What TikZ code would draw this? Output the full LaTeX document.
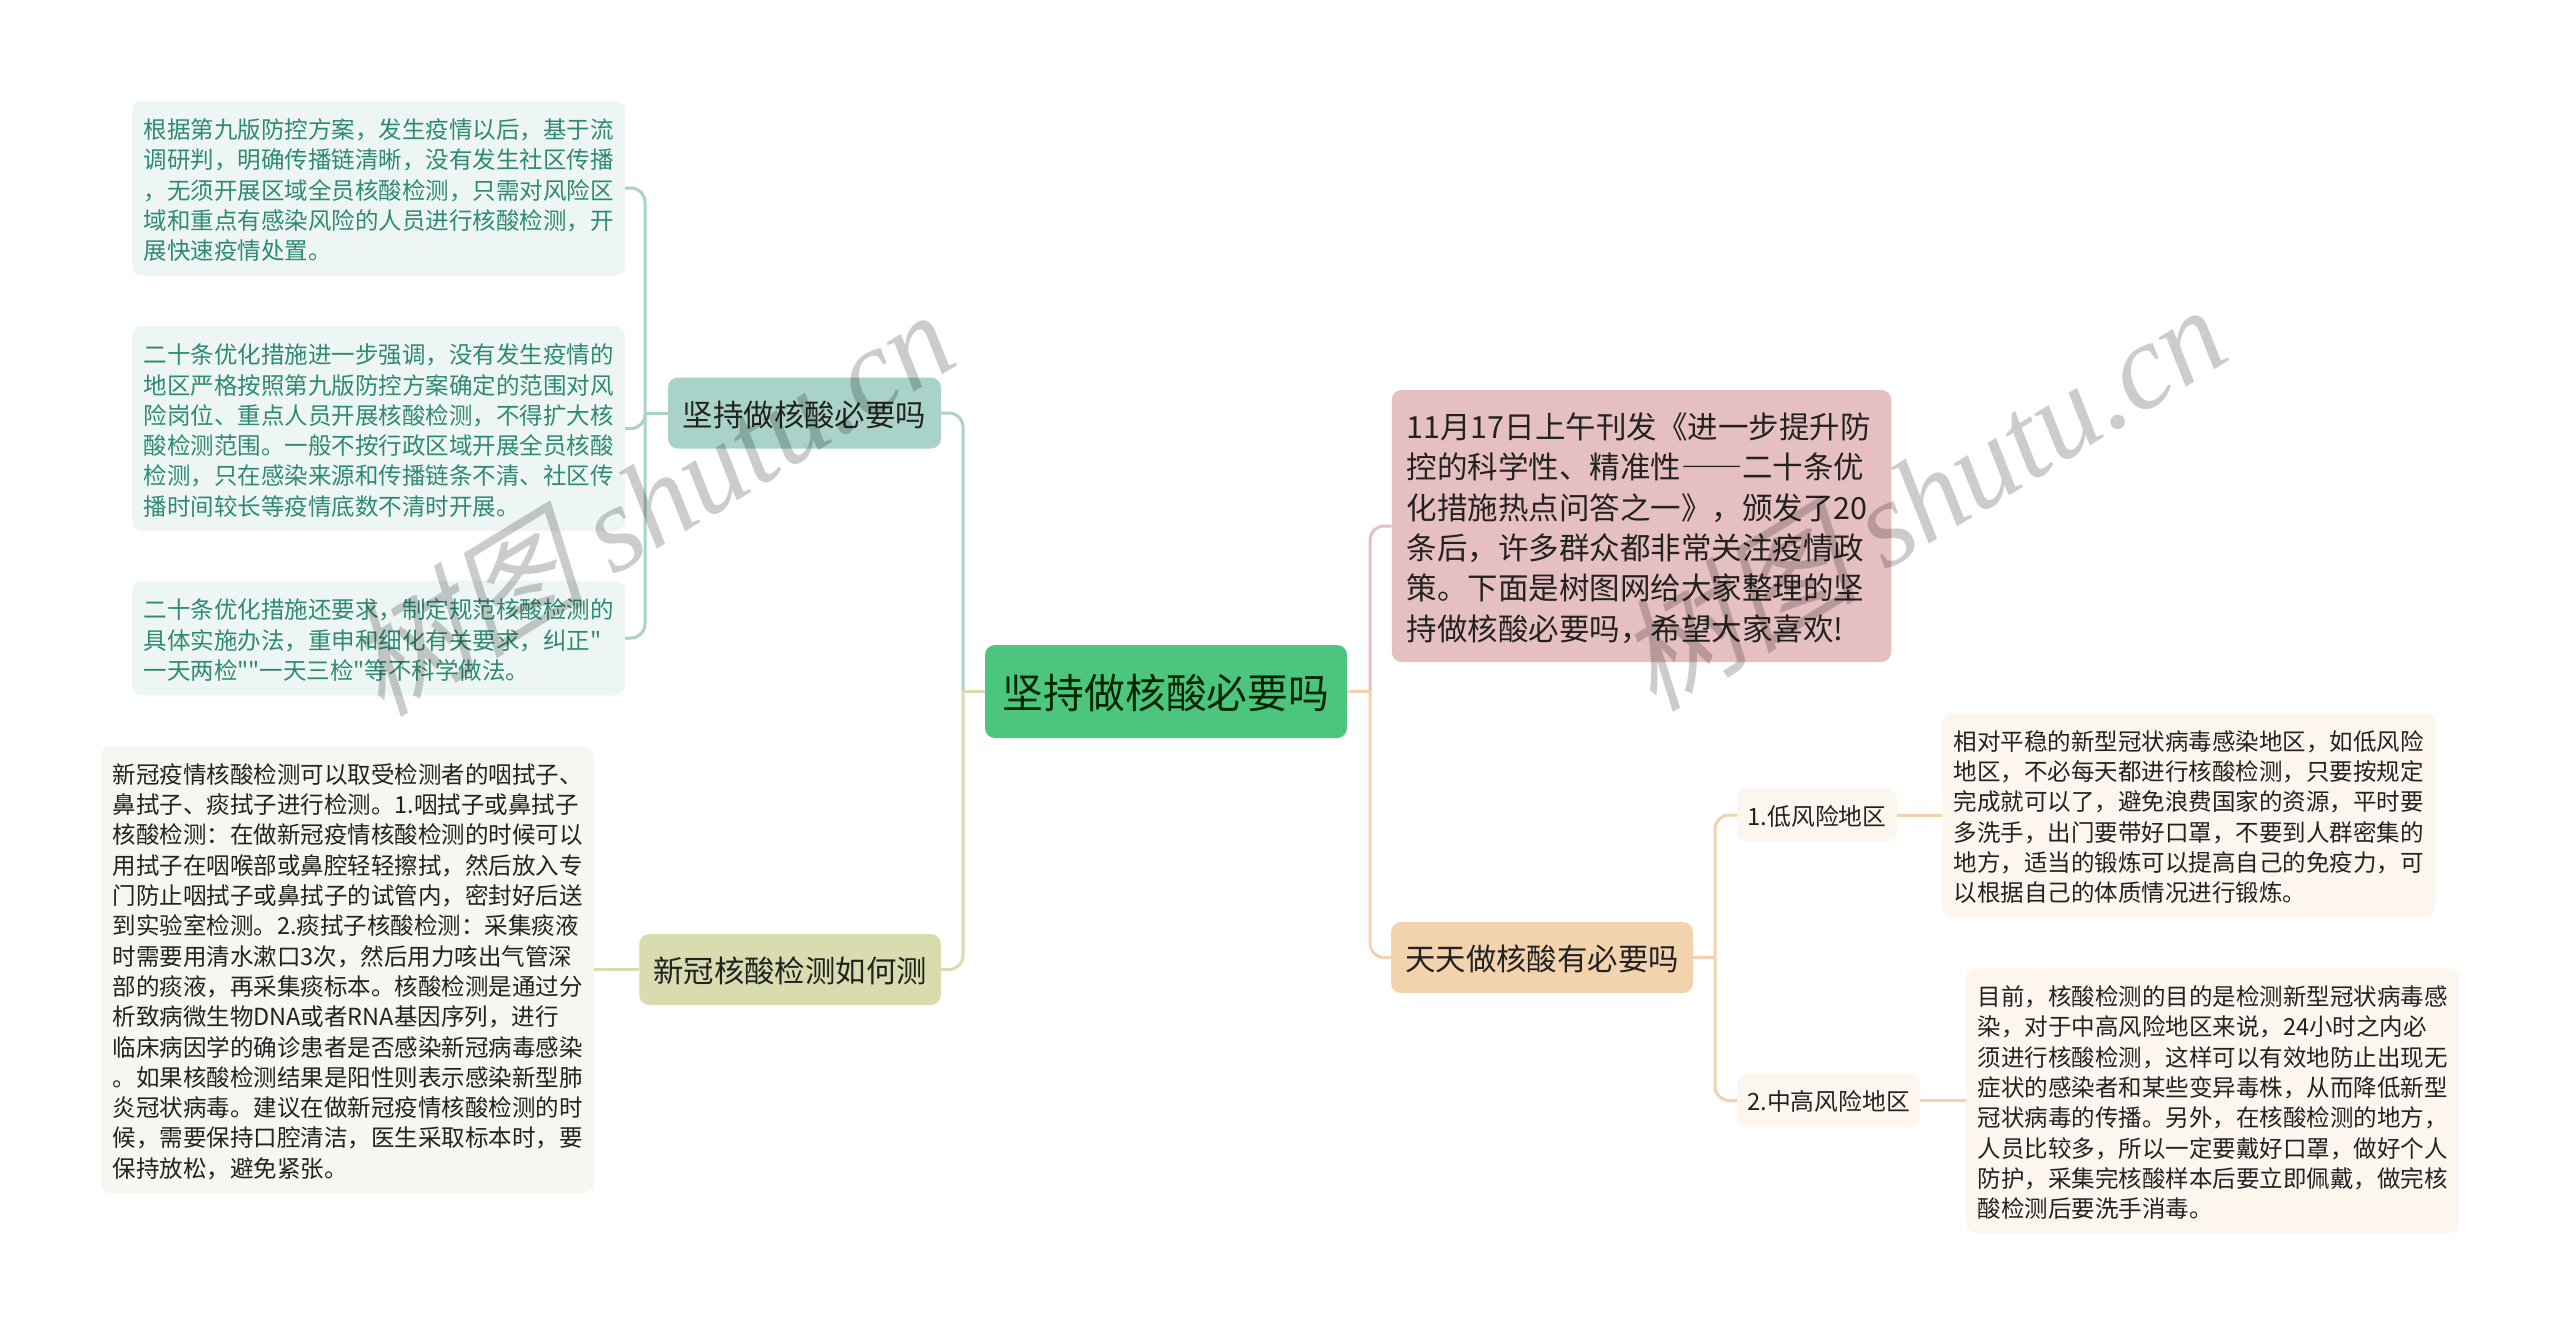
\documentclass[tikz,border=0pt]{standalone}
\usepackage{fontspec}
\setmainfont[Ligatures=TeXOff]{Noto Sans CJK SC}
\newfontfamily\wmlatin{Liberation Serif Italic}
\newfontfamily\wmcjk[FakeSlant=0.25]{Noto Sans CJK SC}
\definecolor{rootfill}{HTML}{4CC67F}
\definecolor{tealfill}{HTML}{A9D3C9}
\definecolor{olivefill}{HTML}{D9DCAE}
\definecolor{rosefill}{HTML}{E6BFC0}
\definecolor{peachfill}{HTML}{F2D3AE}
\definecolor{tealpale}{HTML}{EEF6F5}
\definecolor{olivepale}{HTML}{F6F7F0}
\definecolor{peachpale}{HTML}{FDF6EF}
\definecolor{tealtext}{HTML}{2F8A72}
\definecolor{inktext}{HTML}{222222}
\tikzset{
  x=1pt,y=-1pt,
  boxbase/.style={rectangle,rounded corners=10pt,inner sep=0pt,align=left,text=inktext},
  rootbox/.style={boxbase,fill=rootfill,minimum width=362pt,minimum height=93pt,align=center,font=\fontsize{40.8}{48}\selectfont,text=black!85!green,text height=36pt,text depth=3pt},
  branchbox/.style={boxbase,minimum height=71pt,align=center,font=\fontsize{30.4}{38}\selectfont,text height=28pt,text depth=2pt},
  introbox/.style={boxbase,fill=rosefill,minimum width=499.5pt,minimum height=272pt,text width=470pt,font=\fontsize{30.5}{40.4}\selectfont,execute at begin node={\rule{0pt}{30pt}}},
  subbox/.style={boxbase,fill=peachpale,align=center,minimum height=53pt,font=\fontsize{23.8}{30}\selectfont,text height=22pt,text depth=2pt},
  leafbox/.style={boxbase,minimum width=493pt,text width=470pt,font=\fontsize{23.5}{30.3}\selectfont,execute at begin node={\rule{0pt}{24pt}}},
  tealleaf/.style={leafbox,fill=tealpale,text=tealtext},
  oliveleaf/.style={leafbox,fill=olivepale},
  peachleaf/.style={leafbox,fill=peachpale},
  linkbase/.style={line width=3pt,rounded corners=14pt},
  teallink/.style={linkbase,draw=tealfill},
  olivelink/.style={linkbase,draw=olivefill},
  roselink/.style={linkbase,draw=rosefill},
  peachlink/.style={linkbase,draw=peachfill},
  watermark/.style={rotate=31.5,text=black,text opacity=0.2,inner sep=0pt}
}
\begin{document}
\begin{tikzpicture}
\useasboundingbox (0,0) rectangle (2560,1334);
\fill[white] (0,0) rectangle (2560,1334);
% nodes
\node[rootbox] (root) at (1166,691.5) {坚持做核酸必要吗};
\node[branchbox,fill=tealfill,minimum width=273pt] (keep) at (804.5,413) {坚持做核酸必要吗};
\node[branchbox,fill=olivefill,minimum width=301.5pt] (how) at (790,969.5) {新冠核酸检测如何测};
\node[introbox] (intro) at (1641.5,526) {11月17日上午刊发《进一步提升防\\控的科学性、精准性{\addfontfeature{RawFeature=+fwid}——}二十条优\\化措施热点问答之一》，颁发了20\\条后，许多群众都非常关注疫情政\\策。下面是树图网给大家整理的坚\\持做核酸必要吗，希望大家喜欢!};
\node[branchbox,fill=peachfill,minimum width=302pt] (daily) at (1542,957.5) {天天做核酸有必要吗};
\node[tealleaf,minimum height=175pt] (keepa) at (378.5,188) {根据第九版防控方案，发生疫情以后，基于流\\调研判，明确传播链清晰，没有发生社区传播\\，无须开展区域全员核酸检测，只需对风险区\\域和重点有感染风险的人员进行核酸检测，开\\展快速疫情处置。};
\node[tealleaf,minimum height=205pt] (keepb) at (378.5,428.5) {二十条优化措施进一步强调，没有发生疫情的\\地区严格按照第九版防控方案确定的范围对风\\险岗位、重点人员开展核酸检测，不得扩大核\\酸检测范围。一般不按行政区域开展全员核酸\\检测，只在感染来源和传播链条不清、社区传\\播时间较长等疫情底数不清时开展。};
\node[tealleaf,minimum height=114.5pt] (keepc) at (378.5,638) {二十条优化措施还要求，制定规范核酸检测的\\具体实施办法，重申和细化有关要求，纠正"\\一天两检""一天三检"等不科学做法。};
\node[oliveleaf,minimum height=447pt] (howa) at (347.5,969.5) {新冠疫情核酸检测可以取受检测者的咽拭子、\\鼻拭子、痰拭子进行检测。1.咽拭子或鼻拭子\\核酸检测：在做新冠疫情核酸检测的时候可以\\用拭子在咽喉部或鼻腔轻轻擦拭，然后放入专\\门防止咽拭子或鼻拭子的试管内，密封好后送\\到实验室检测。2.痰拭子核酸检测：采集痰液\\时需要用清水漱口3次，然后用力咳出气管深\\部的痰液，再采集痰标本。核酸检测是通过分\\析致病微生物DNA或者RNA基因序列，进行\\临床病因学的确诊患者是否感染新冠病毒感染\\。如果核酸检测结果是阳性则表示感染新型肺\\炎冠状病毒。建议在做新冠疫情核酸检测的时\\候，需要保持口腔清洁，医生采取标本时，要\\保持放松，避免紧张。};
\node[subbox,minimum width=160pt] (low) at (1817,815) {1.低风险地区};
\node[subbox,minimum width=183pt] (high) at (1828.5,1100.5) {2.中高风险地区};
\node[peachleaf,minimum height=204pt] (lowa) at (2188.5,815) {相对平稳的新型冠状病毒感染地区，如低风险\\地区，不必每天都进行核酸检测，只要按规定\\完成就可以了，避免浪费国家的资源，平时要\\多洗手，出门要带好口罩，不要到人群密集的\\地方，适当的锻炼可以提高自己的免疫力，可\\以根据自己的体质情况进行锻炼。};
\node[peachleaf,minimum height=265pt] (higha) at (2212.5,1100.5) {目前，核酸检测的目的是检测新型冠状病毒感\\染，对于中高风险地区来说，24小时之内必\\须进行核酸检测，这样可以有效地防止出现无\\症状的感染者和某些变异毒株，从而降低新型\\冠状病毒的传播。另外，在核酸检测的地方，\\人员比较多，所以一定要戴好口罩，做好个人\\防护，采集完核酸样本后要立即佩戴，做完核\\酸检测后要洗手消毒。};
% junctions
\coordinate (rootL) at (963,691.5);
\coordinate (rootR) at (1370,691.5);
\coordinate (keepJ) at (645,413);
\coordinate (dailyJ) at (1715,957.5);
% connectors
\draw[olivelink] (rootL) |- (how.east);
\draw[teallink] (rootL) |- (keep.east);
\draw[olivelink] (root.west) -- (rootL);
\draw[roselink] (rootR) |- (intro.west);
\draw[peachlink] (rootR) |- (daily.west);
\draw[peachlink] (root.east) -- (rootR);
\draw[teallink] (keep.west) -- (keepJ);
\draw[teallink] (keepJ) |- (keepa.east);
\draw[teallink] (keepJ) |- (keepb.east);
\draw[teallink] (keepJ) |- (keepc.east);
\draw[olivelink] (how.west) -- (howa.east);
\draw[peachlink] (daily.east) -- (dailyJ);
\draw[peachlink] (dailyJ) |- (low.west);
\draw[peachlink] (dailyJ) |- (high.west);
\draw[peachlink] (low.east) -- (lowa.west);
\draw[peachlink] (high.east) -- (higha.west);
% watermarks
\node[watermark] (wmleft) at (648,501) {\fontsize{122}{130}\selectfont{\wmcjk 树图} {\wmlatin shutu.cn}};
\node[watermark] (wmright) at (1920,496) {\fontsize{122}{130}\selectfont{\wmcjk 树图} {\wmlatin shutu.cn}};
\end{tikzpicture}
\end{document}
